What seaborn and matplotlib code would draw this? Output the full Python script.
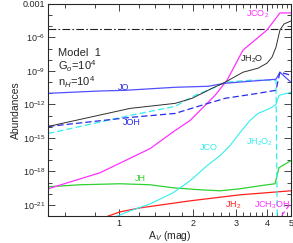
import numpy as np
import matplotlib
matplotlib.use("Agg")
import matplotlib.pyplot as plt
import matplotlib.ticker as mticker
import seaborn as sns

# visual extinction (mag) and log10 abundances
av_h2o = [0.514, 1.108, 1.689, 1.98, 2.388, 2.697, 3.19, 3.673, 3.996, 4.188, 4.347, 4.51, 4.685, 5.0]
lg_h2o = [-13.98, -12.36, -11.91, -11.46, -10.56, -10.02, -9.12, -8.76, -8.31, -7.77, -6.87, -5.34, -4.80, -4.53]

av_co2 = [0.514, 0.837, 1.058, 1.337, 1.689, 1.944, 2.175, 2.456, 2.748, 2.961, 3.19, 3.571, 3.996, 4.51, 5.0]
lg_co2 = [-19.56, -18.12, -17.04, -15.96, -14.34, -13.44, -12.36, -11.19, -9.84, -8.49, -7.14, -6.24, -5.34, -3.81, -3.81]

av_o = [0.514, 0.837, 1.058, 1.689, 2.30, 2.697, 3.408, 4.347, 4.51, 5.0]
lg_o = [-11.01, -10.80, -10.74, -10.47, -10.38, -10.11, -9.93, -9.75, -9.12, -10.02]

av_oh = [0.514, 1.108, 1.689, 2.30, 2.697, 3.673, 4.347, 4.51, 5.0]
lg_oh = [-13.98, -13.17, -12.81, -11.91, -11.46, -11.01, -10.74, -9.12, -9.39]

av_h2o2 = [0.514, 1.108, 1.689, 2.037, 2.456, 2.697, 3.408, 4.347, 4.40]
lg_h2o2 = [-14.61, -12.99, -12.18, -11.19, -10.47, -10.02, -9.84, -9.84, -23.0]

av_co = [0.919, 1.108, 1.337, 1.658, 1.944, 2.279, 2.574, 2.827, 3.104, 3.408, 3.673, 4.11, 4.347, 4.47, 5.0]
lg_co = [-22.26, -21.54, -20.91, -19.92, -18.84, -17.49, -16.59, -15.69, -14.52, -13.44, -12.81, -12.36, -12.0, -11.19, -10.92]

av_h = [0.514, 0.694, 1.009, 1.337, 1.658, 2.135, 2.574, 3.104, 3.743, 4.306, 4.47, 5.0]
lg_h = [-19.38, -19.20, -19.11, -19.20, -19.47, -19.65, -19.74, -19.56, -19.29, -19.11, -17.67, -17.04]

av_h2 = [0.837, 1.009, 1.217, 1.944, 3.104, 5.0]
lg_h2 = [-22.26, -21.63, -21.27, -20.64, -20.10, -19.74]

av_ch3oh = [4.43, 4.51, 5.0]
lg_ch3oh = [-22.6, -22.17, -20.82]

av_tot = [0.514, 5.0]
lg_tot = [-5.25, -5.25]

sns.set_style("ticks")
plt.rcParams['font.family'] = ['Liberation Sans', 'DejaVu Sans']
plt.rcParams['mathtext.fontset'] = 'custom'
plt.rcParams['mathtext.rm'] = 'Liberation Sans'
plt.rcParams['mathtext.it'] = 'Liberation Sans:italic'

fig = plt.figure(figsize=(2.93, 2.43), dpi=100)
ax = fig.add_axes([0.164, 0.111, 0.829, 0.873])

series = [
    (av_tot, lg_tot, "#222222", (0, (7, 2, 1.5, 2)), 0.8),
    (av_h2, lg_h2, "#ff2020", "-", 0.9),
    (av_h, lg_h, "#30d030", "-", 0.9),
    (av_co, lg_co, "#33eeee", "-", 0.8),
    (av_h2o2, lg_h2o2, "#33eeee", (0, (5, 2.5)), 0.9),
    (av_co2, lg_co2, "#ff30ff", "-", 0.9),
    (av_ch3oh, lg_ch3oh, "#ff30ff", (0, (4, 2.5)), 0.9),
    (av_o, lg_o, "#5050ff", "-", 0.9),
    (av_oh, lg_oh, "#2a2ae8", (0, (5, 2.5)), 0.9),
    (av_h2o, lg_h2o, "#303030", "-", 0.7),
]
for av, lg, col, ls, lw in series:
    sns.lineplot(x=np.array(av), y=10 ** np.array(lg), ax=ax, color=col,
                 linestyle=ls, linewidth=lw, estimator=None, sort=False)

ax.set_xscale("log")
ax.set_yscale("log")
ax.set_xlim(0.514, 5.0)
ax.set_ylim(1e-22, 1e-3)

ax.xaxis.set_major_locator(mticker.FixedLocator([1, 2, 3, 4, 5]))
ax.xaxis.set_major_formatter(mticker.FixedFormatter(["1", "2", "3", "4", "5"]))
ax.xaxis.set_minor_locator(mticker.FixedLocator(np.arange(0.6, 5.0, 0.2)))
ax.xaxis.set_minor_formatter(mticker.NullFormatter())

ymaj = [1e-21, 1e-18, 1e-15, 1e-12, 1e-9, 1e-6, 1e-3]
ylab = [r"10$^{-21}$", r"10$^{-18}$", r"10$^{-15}$", r"10$^{-12}$", r"10$^{-9}$", r"10$^{-6}$", "0.001"]
ax.yaxis.set_major_locator(mticker.FixedLocator(ymaj))
ax.yaxis.set_major_formatter(mticker.FixedFormatter(ylab))
ax.yaxis.set_minor_locator(mticker.FixedLocator([10.0 ** k for k in range(-22, -3)]))
ax.yaxis.set_minor_formatter(mticker.NullFormatter())

ax.tick_params(which="both", direction="in", top=True, right=True, labelsize=6.5, width=0.6, pad=2)
ax.tick_params(which="major", length=5)
ax.tick_params(which="minor", length=3)
for s in ax.spines.values():
    s.set_linewidth(0.8)

ax.set_xlabel(r"A$_V$ (mag)", fontsize=7.5, labelpad=1)
ax.set_ylabel("Abundances", fontsize=7.5, labelpad=1)

fs = 6.5
tr = ax.transAxes
ax.text(0.864, 0.953, r"JCO$_2$", color="#ff30ff", fontsize=fs, ha="center", va="center", transform=tr)
ax.text(0.84, 0.741, r"JH$_2$O", color="#222222", fontsize=fs, ha="center", va="center", transform=tr)
ax.text(0.309, 0.608, "JO", color="#3030e0", fontsize=fs, ha="center", va="center", transform=tr)
ax.text(0.346, 0.443, "JOH", color="#2a2ae8", fontsize=fs, ha="center", va="center", transform=tr)
ax.text(0.663, 0.321, "JCO", color="#33eeee", fontsize=fs, ha="center", va="center", transform=tr)
ax.text(0.872, 0.349, r"JH$_2$O$_2$", color="#33eeee", fontsize=fs, ha="center", va="center", transform=tr)
ax.text(0.379, 0.179, "JH", color="#30d030", fontsize=fs, ha="center", va="center", transform=tr)
ax.text(0.761, 0.052, r"JH$_2$", color="#ff2020", fontsize=fs, ha="center", va="center", transform=tr)
ax.text(0.922, 0.052, r"JCH$_3$OH", color="#ff30ff", fontsize=fs, ha="center", va="center", transform=tr)

ax.text(0.041, 0.769, "Model  1", fontsize=8, ha="left", va="center", transform=tr)
ax.text(0.041, 0.708, r"G$_o$=10$^4$", fontsize=8, ha="left", va="center", transform=tr)
ax.text(0.041, 0.632, r"n$_H$=10$^4$", fontsize=8, ha="left", va="center", transform=tr)

fig.savefig("out.png", dpi=100)
